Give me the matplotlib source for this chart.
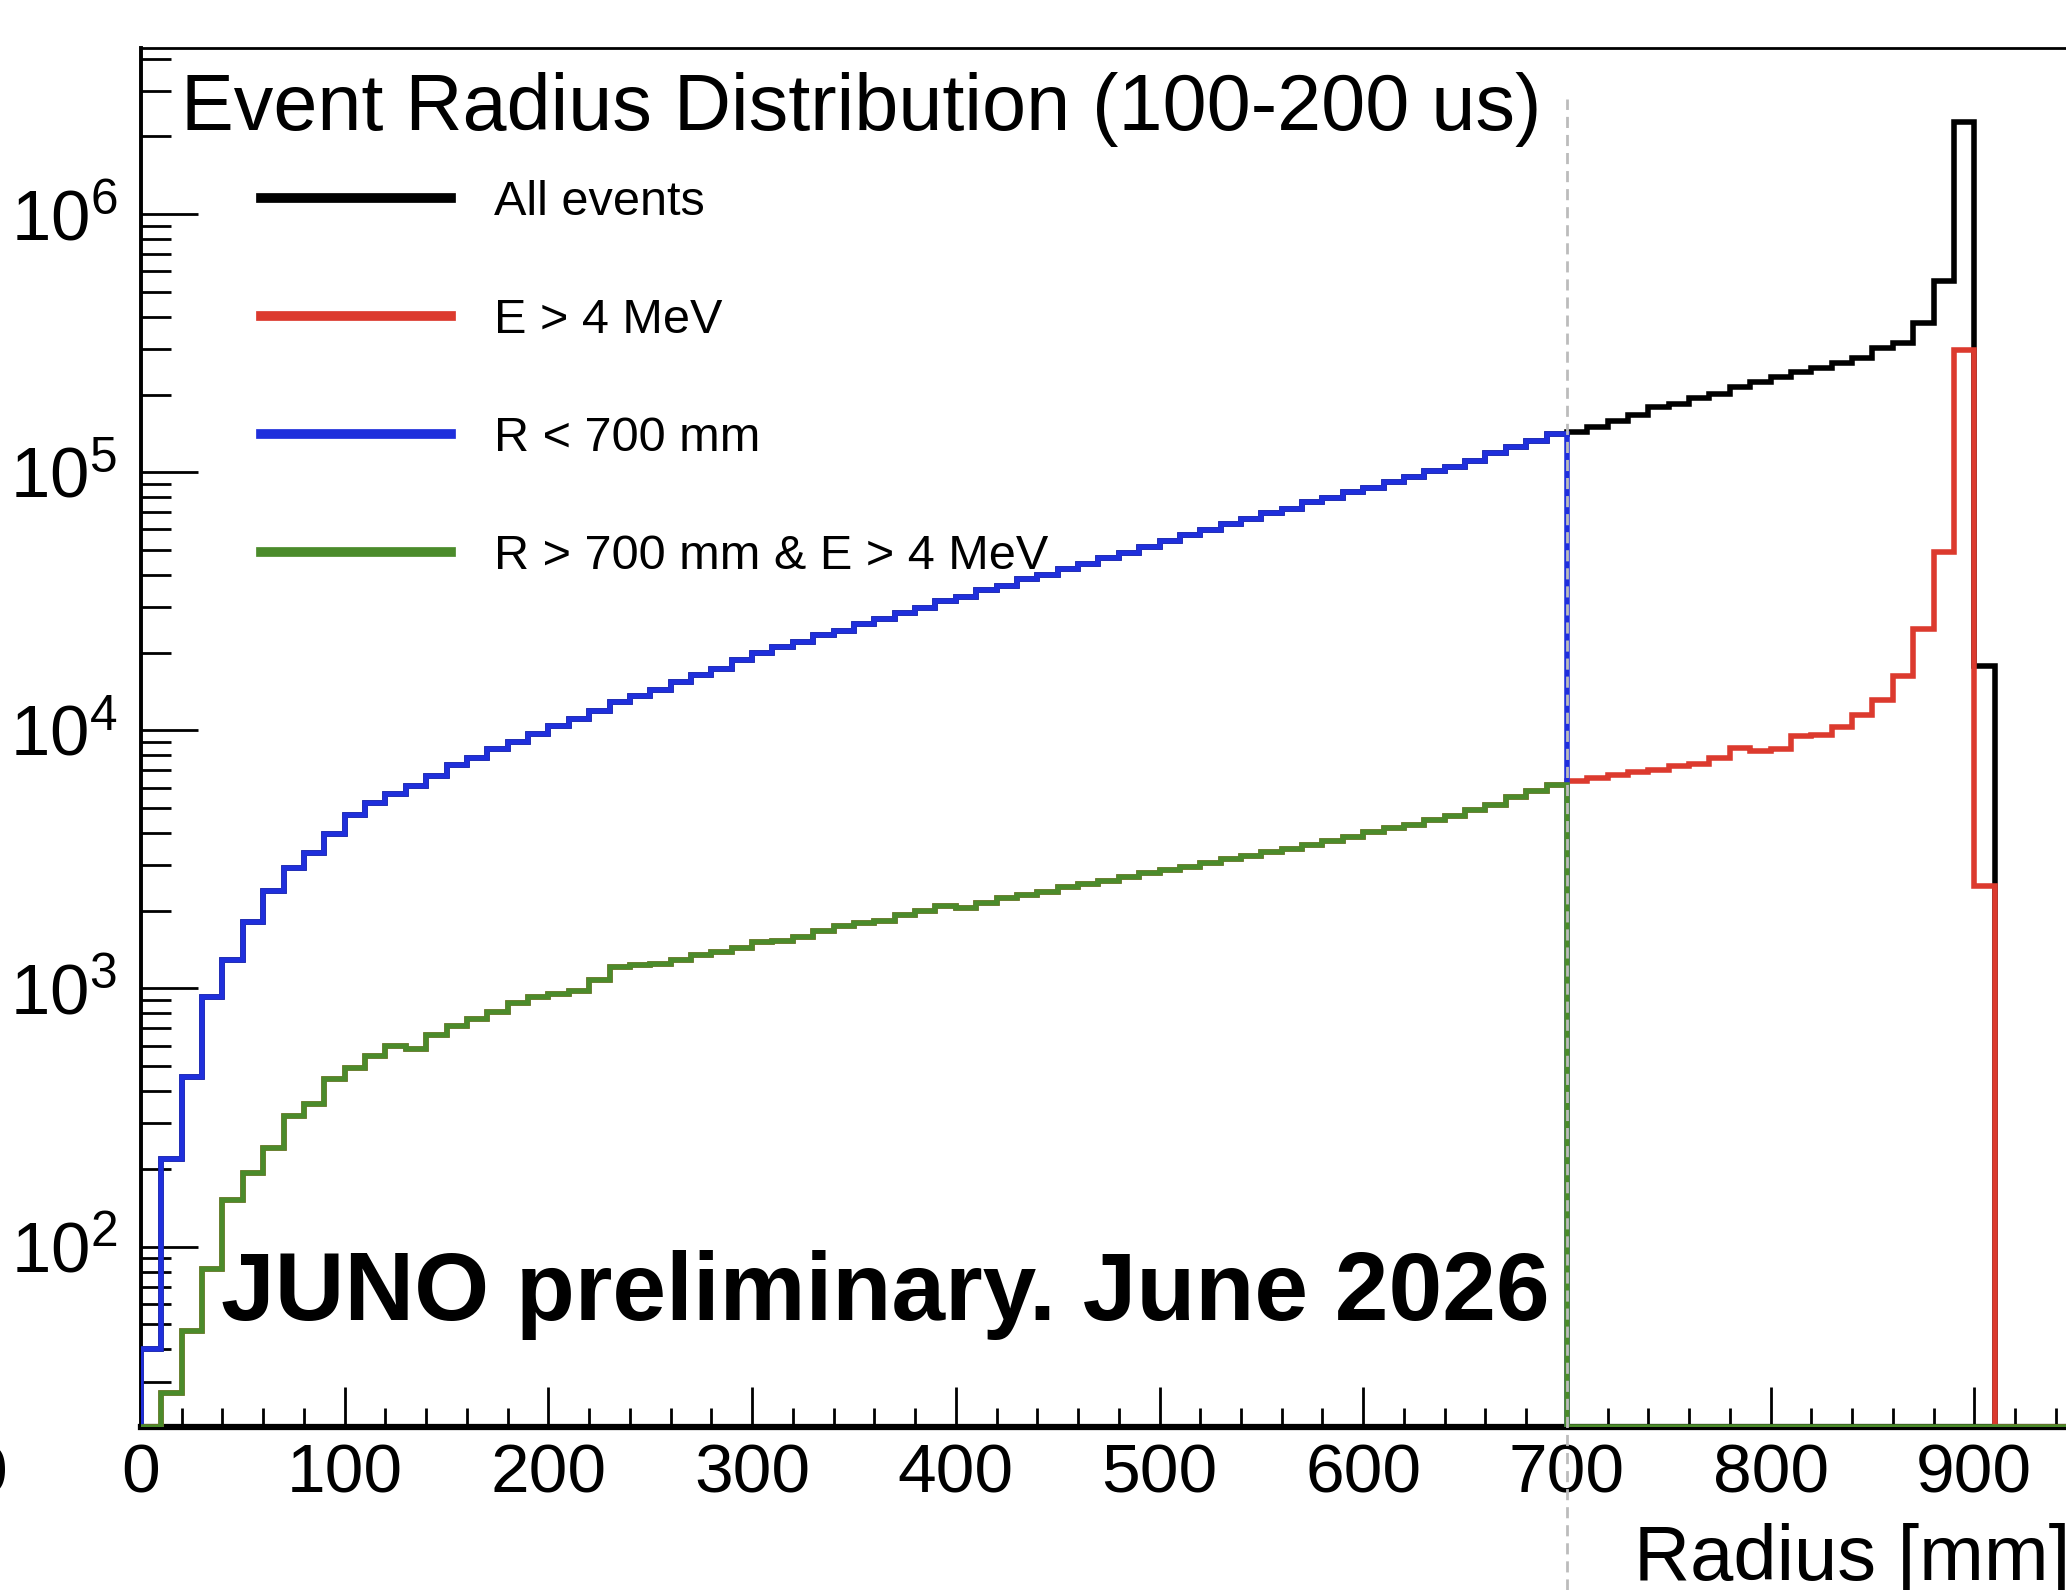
import matplotlib
matplotlib.use("Agg")
import matplotlib.pyplot as plt
import numpy as np
from matplotlib.lines import Line2D
from matplotlib.ticker import MultipleLocator, LogLocator

plt.rcParams['font.family'] = ['Liberation Sans', 'DejaVu Sans']
plt.rcParams['mathtext.fontset'] = 'custom'
plt.rcParams['mathtext.rm'] = 'Liberation Sans'
plt.rcParams['mathtext.it'] = 'Liberation Sans:italic'
plt.rcParams['mathtext.bf'] = 'Liberation Sans:bold'

# 10 mm bins from 0 to 1000 mm
edges = np.arange(0, 1001, 10)

# counts per bin, R < 700 mm (bins 0..690)
r_lt700 = [40, 218, 455, 928, 1284, 1807, 2376, 2920, 3350, 3975,
           4713, 5224, 5689, 6096, 6640, 7350, 7795, 8430, 9020, 9660,
           10420, 11090, 11870, 12840, 13600, 14330, 15340, 16420, 17300, 18710,
           19860, 21090, 22030, 23330, 24320, 25820, 26920, 28580, 29790, 31620,
           32960, 34910, 36310, 38460, 39990, 42360, 44060, 46670, 48530, 51400,
           53900, 57200, 59500, 63200, 65600, 69600, 72300, 76500, 79400, 84000,
           87100, 92000, 95600, 100800, 104500, 110300, 118200, 125600, 131600, 140300]

# green curve, bins 0..690
green_lt700 = [0, 27, 47, 82, 152, 192, 240, 321, 356, 444,
               492, 549, 601, 585, 663, 718, 764, 810, 876, 928,
               950, 977, 1082, 1208, 1228, 1240, 1292, 1352, 1380, 1439,
               1507, 1531, 1585, 1667, 1738, 1786, 1828, 1928, 1995, 2080,
               2051, 2138, 2239, 2301, 2371, 2466, 2541, 2618, 2692, 2793,
               2884, 2965, 3069, 3162, 3273, 3373, 3467, 3589, 3715, 3846,
               4027, 4169, 4315, 4487, 4656, 4898, 5152, 5508, 5808, 6152]

# all events, bins 700..900
all_gt700 = [142600, 150300, 158100, 166300, 178200, 184100, 194100, 201800, 214800, 223900,
             233900, 244300, 252900, 265500, 277300, 302000, 317700, 380000, 550000, 2270000,
             17800]

# E > 4 MeV, bins 700..900
e4_gt700 = [6370, 6550, 6700, 6890, 7050, 7250, 7430, 7820, 8510, 8280,
            8450, 9530, 9550, 10300, 11500, 13100, 16300, 24600, 49000, 297000,
            2490]

labels = ['All events', 'E > 4 MeV', 'R < 700 mm', 'R > 700 mm & E > 4 MeV']
colors = ['#000000', '#dc3a2e', '#1f2fdc', '#4b8b2b']

Y_MIN, Y_MAX = 20, 4.4e6

n_bins = len(edges) - 1
tail = np.zeros(n_bins - len(r_lt700) - len(all_gt700))
all_events = np.concatenate([r_lt700, all_gt700, tail])
e_gt4 = np.concatenate([green_lt700, e4_gt700, tail])
blue = np.array(r_lt700, dtype=float)
green = np.concatenate([green_lt700, np.zeros(n_bins - len(green_lt700))])

W, H = 2066, 1590
fig = plt.figure(figsize=(W / 100, H / 100), dpi=100)
ax = fig.add_axes([141 / W, (H - 1427) / H, 2037 / W, (1427 - 48) / H])

# empty bins sit on the lower edge of the frame, as in ROOT
hist_lw = 4
ax.stairs(np.clip(all_events, Y_MIN, None), edges, baseline=Y_MIN,
          color=colors[0], lw=hist_lw, zorder=3)
ax.stairs(np.clip(e_gt4, Y_MIN, None), edges, baseline=Y_MIN,
          color=colors[1], lw=hist_lw, zorder=3)
ax.stairs(np.clip(blue, Y_MIN, None), edges[:len(blue) + 1], baseline=Y_MIN,
          color=colors[2], lw=hist_lw, zorder=3)
ax.stairs(np.clip(green, Y_MIN, None), edges, baseline=Y_MIN,
          color=colors[3], lw=hist_lw, zorder=3)

# radius cut marker, runs down past the axis
ax.axvline(700, ymin=-(H - 1427) / 1379, ymax=(1427 - 99) / 1379, color='#bcbcbc',
           lw=2, ls=(0, (4, 2.5)), clip_on=False, zorder=4)

ax.set_yscale('log')
ax.set_xlim(0, 1000)
ax.set_ylim(Y_MIN, Y_MAX)

ax.xaxis.set_major_locator(MultipleLocator(100))
ax.xaxis.set_minor_locator(MultipleLocator(20))
ax.yaxis.set_major_locator(LogLocator(base=10))
ax.yaxis.set_minor_locator(LogLocator(base=10, subs=np.arange(2, 10)))

ax.tick_params(axis='x', which='major', direction='in', length=29, width=2,
               labelsize=50, pad=11)
ax.tick_params(axis='x', which='minor', direction='in', length=14, width=2)
ax.tick_params(axis='y', which='major', direction='in', length=41, width=2,
               labelsize=51, pad=17)
ax.tick_params(axis='y', which='minor', direction='in', length=21.5, width=2)

ax.spines['right'].set_visible(False)
ax.spines['left'].set_linewidth(2.8)
ax.spines['top'].set_linewidth(2.0)
ax.spines['bottom'].set_linewidth(4.5)

handles = [Line2D([], [], color=c, lw=7) for c in colors]
ax.legend(handles, labels, loc='upper left', bbox_to_anchor=(261 / W, 1 - 180 / H),
          bbox_transform=fig.transFigure, frameon=False, fontsize=35,
          handlelength=3.9, handletextpad=0.9, labelspacing=1.5,
          borderpad=0, borderaxespad=0)

fig.text(181 / W, 1 - 130 / H, 'Event Radius Distribution (100-200 us)',
         fontsize=57, va='baseline', ha='left')
fig.text(221 / W, 1 - 1320 / H, 'JUNO preliminary. June 2026',
         fontweight='bold', fontsize=69.5, va='baseline', ha='left')
fig.text(1634 / W, 10 / H, 'Radius [mm]',
         fontsize=56, va='baseline', ha='left')
# edge of a neighbouring tick label
fig.text(-12 / W, 1 - 1443 / H, '0', fontsize=50, ha='center', va='top')

fig.savefig('out.png', dpi=100)
